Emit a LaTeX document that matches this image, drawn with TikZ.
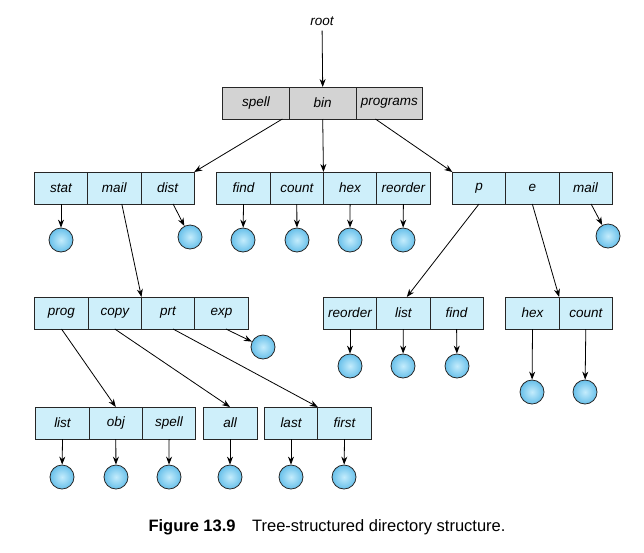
\documentclass[tikz,border=0pt]{standalone}
\usepackage{fontspec}
\setmainfont{Liberation Sans}
\usetikzlibrary{positioning,arrows.meta,calc}
\definecolor{CellBlue}{RGB}{206,239,250}
\definecolor{CellGray}{RGB}{211,211,211}
\definecolor{BallIn}{RGB}{196,236,252}
\definecolor{BallOut}{RGB}{104,192,234}

\begin{document}
\begin{tikzpicture}[x=1pt, y=-1pt,
    cell/.style={rectangle, draw=black!85, fill=CellBlue, line width=0.8pt, minimum width=53.3pt, minimum height=32pt, inner sep=0pt, outer sep=0pt, font=\fontsize{13.5}{15}\selectfont\itshape},
    topcell/.style={cell, fill=CellGray, minimum width=66.7pt},
    file/.style={circle, draw=black!85, line width=0.8pt, minimum size=24pt, inner sep=0pt, inner color=BallIn, outer color=BallOut},
    link/.style={-{Stealth[length=8pt,width=6pt]}, line width=0.8pt}
]
    \useasboundingbox (0,0) rectangle (644,552);

    % Root directory
    \node[font=\fontsize{13.5}{15}\selectfont\itshape, inner sep=5pt] (root) at (322,21) {root};
    \node[topcell] (spell) at (256,103) {spell};
    \node[topcell, right=0pt of spell] (bin) {bin};
    \node[topcell, right=0pt of bin] (programs) {programs};

    % Row 2 - spell, bin, programs
    \node[cell] (stat) at (61,188) {stat};
    \node[cell, right=0pt of stat] (mail) {mail};
    \node[cell, right=0pt of mail] (dist) {dist};
    \node[cell] (find) at (243.5,188) {find};
    \node[cell, right=0pt of find] (count) {count};
    \node[cell, right=0pt of count] (hex) {hex};
    \node[cell, right=0pt of hex] (reorder) {reorder};
    \node[cell] (p) at (479,188) {p};
    \node[cell, right=0pt of p] (e) {e};
    \node[cell, right=0pt of e] (mailp) {mail};

    % Row 3 - mail, p, e
    \node[cell] (prog) at (61.5,313) {prog};
    \node[cell, right=0pt of prog] (copy) {copy};
    \node[cell, right=0pt of copy] (prt) {prt};
    \node[cell, right=0pt of prt] (exp) {exp};
    \node[cell] (reorderp) at (350,313) {reorder};
    \node[cell, right=0pt of reorderp] (list) {list};
    \node[cell, right=0pt of list] (findp) {find};
    \node[cell] (hexe) at (532.5,313) {hex};
    \node[cell, right=0pt of hexe] (counte) {count};

    % Row 4 - prog, copy, prt
    \node[cell] (listp) at (62.5,423) {list};
    \node[cell, right=0pt of listp] (obj) {obj};
    \node[cell, right=0pt of obj] (spellp) {spell};
    \node[cell, minimum width=54pt] (all) at (230,423) {all};
    \node[cell, minimum width=53.5pt] (last) at (291,423) {last};
    \node[cell, minimum width=53.5pt, right=0pt of last] (first) {first};

    % Files
    \node[file] (fstat) at (61,240) {};
    \node[file] (fdist) at (190,237) {};
    \node[file] (ffind) at (243,240) {};
    \node[file] (fcount) at (297,240) {};
    \node[file] (fhex) at (350,240) {};
    \node[file] (freorder) at (403,240) {};
    \node[file] (fmailp) at (608,236) {};
    \node[file] (fexp) at (263,347) {};
    \node[file] (freorderp) at (350,366) {};
    \node[file] (flist) at (403,366) {};
    \node[file] (ffindp) at (457,366) {};
    \node[file] (fhexe) at (532,392) {};
    \node[file] (fcounte) at (585,392) {};
    \node[file] (flistp) at (62,477) {};
    \node[file] (fobj) at (116,477) {};
    \node[file] (fspellp) at (169,477) {};
    \node[file] (fall) at (230,477) {};
    \node[file] (flast) at (291,477) {};
    \node[file] (ffirst) at (344,477) {};

    % Directory links
    \draw[link] (root) -- (bin.north);
    \draw[link] ([xshift=-7pt]spell.south east) -- (dist.north east);
    \draw[link] (bin.south) -- (count.north east);
    \draw[link] ([xshift=-14pt]programs.south) -- (p.north west);
    \draw[link] ([xshift=7.5pt]mail.south) -- (copy.north east);
    \draw[link] (p.south) -- ([xshift=3.5pt]list.north);
    \draw[link] (e.south) -- (hexe.north east);
    \draw[link] (prog.south) -- (obj.north);
    \draw[link] (copy.south) -- (all.north);
    \draw[link] ([xshift=5pt]prt.south) -- (last.north east);

    % File links
    \draw[link] (stat.south) -- (fstat);
    \draw[link] ([xshift=5.5pt]dist.south) -- (fdist);
    \draw[link] (find.south) -- (ffind);
    \draw[link] (count.south) -- (fcount);
    \draw[link] (hex.south) -- (fhex);
    \draw[link] (reorder.south) -- (freorder);
    \draw[link] ([xshift=5.5pt]mailp.south) -- (fmailp);
    \draw[link] ([xshift=4.5pt]exp.south) -- (fexp);
    \draw[link] (reorderp.south) -- (freorderp);
    \draw[link] (list.south) -- (flist);
    \draw[link] (findp.south) -- (ffindp);
    \draw[link] (hexe.south) -- (fhexe);
    \draw[link] (counte.south) -- (fcounte);
    \draw[link] (listp.south) -- (flistp);
    \draw[link] (obj.south) -- (fobj);
    \draw[link] (spellp.south) -- (fspellp);
    \draw[link] (all.south) -- (fall);
    \draw[link] (last.south) -- (flast);
    \draw[link] (first.south) -- (ffirst);

    % Caption
    \node[font=\fontsize{16.5}{18}\selectfont] (caption) at (327,527) {\textbf{Figure 13.9}\hspace{1em}Tree-structured directory structure.};
\end{tikzpicture}
\end{document}
